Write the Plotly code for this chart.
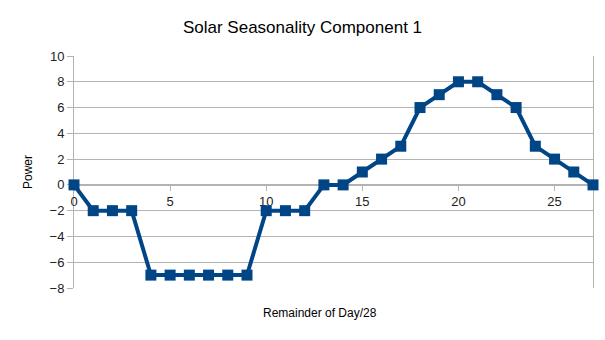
import plotly.graph_objects as go

days = list(range(28))
power = [0, -2, -2, -2, -7, -7, -7, -7, -7, -7, -2, -2, -2, 0, 0, 1, 2, 3, 6, 7, 8, 8, 7, 6, 3, 2, 1, 0]
x_ticks = [0, 5, 10, 15, 20, 25]
y_ticks = [-8, -6, -4, -2, 0, 2, 4, 6, 8, 10]

color = "#004586"
grid = "#b3b3b3"
font = "Liberation Sans, Arial, sans-serif"

fig = go.Figure(go.Scatter(
    x=days, y=power, mode="lines+markers",
    line=dict(color=color, width=4),
    marker=dict(symbol="square", size=11, color=color),
    cliponaxis=False,
))

W, H = 605, 340
ml, mr, mt, mb = 74, 12, 56, 52

fig.update_layout(
    width=W, height=H,
    margin=dict(l=ml, r=mr, t=mt, b=mb),
    paper_bgcolor="white", plot_bgcolor="white",
    font=dict(family=font, size=12, color="#333"),
    showlegend=False,
    title=dict(text="Solar Seasonality Component 1", x=0.5, xanchor="center",
               y=1 - 27 / H, yanchor="middle", font=dict(size=17, color="#000")),
    xaxis=dict(range=[0, 27], tickvals=x_ticks, showgrid=False, zeroline=False,
               anchor="free", position=8 / 18, showline=True, linecolor=grid, linewidth=1,
               ticks="outside", ticklen=5, tickcolor=grid, layer="below traces",
               tickfont=dict(size=13, color="#222")),
    yaxis=dict(range=[-8, 10], tickvals=y_ticks, showgrid=True, gridcolor=grid, gridwidth=1,
               zeroline=False, showline=True, linecolor=grid, linewidth=1, mirror=True,
               ticks="outside", ticklen=6, tickcolor=grid, layer="below traces",
               tickfont=dict(size=13, color="#222")),
    annotations=[
        dict(text="Remainder of Day/28", xref="paper", yref="paper",
             x=(320 - ml) / (W - ml - mr), y=-(313 - (H - mb)) / (H - mt - mb),
             xanchor="center", yanchor="middle", showarrow=False,
             font=dict(size=12, color="#000")),
        dict(text="Power", xref="paper", yref="paper",
             x=-(ml - 28) / (W - ml - mr), y=0.5, textangle=-90,
             xanchor="center", yanchor="middle", showarrow=False,
             font=dict(size=12, color="#000")),
    ],
)

fig.write_html("out.html")
